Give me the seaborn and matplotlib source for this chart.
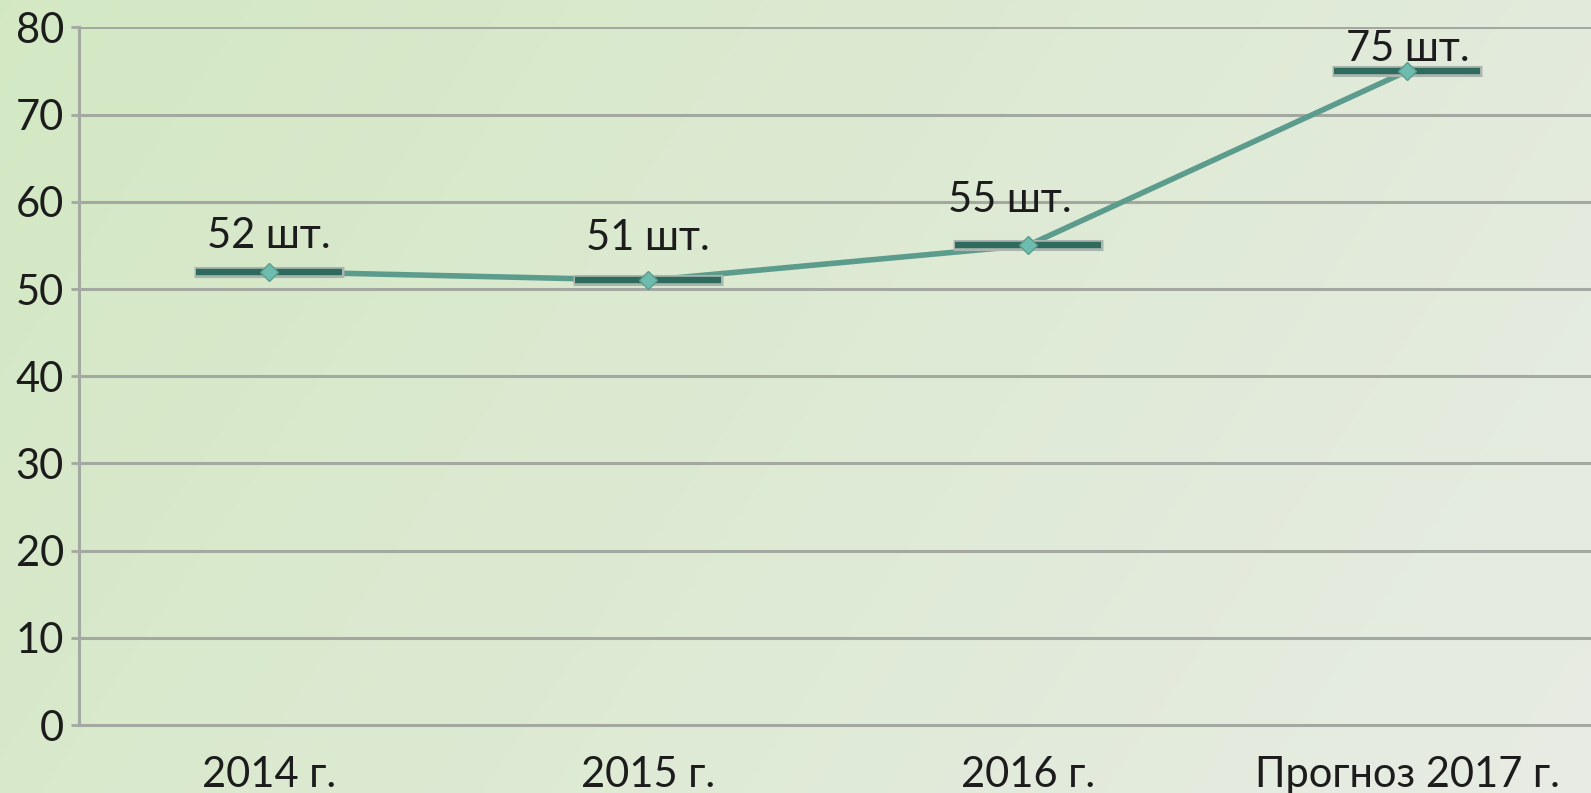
import matplotlib
matplotlib.use('Agg')
import matplotlib.pyplot as plt
import numpy as np
import pandas as pd
import seaborn as sns

# chart data
years = ['2014 г.', '2015 г.', '2016 г.', 'Прогноз 2017 г.']
counts = [52, 51, 55, 75]
labels = ['52 шт.', '51 шт.', '55 шт.', '75 шт.']

# label offsets in points (layout only)
label_offsets = [(0, 17), (0, 22), (-13, 24), (0, 7)]

df = pd.DataFrame({'pos': range(len(years)), 'year': years, 'count': counts})

sns.set_theme(style='white')
plt.rcParams['font.family'] = ['Lato', 'DejaVu Sans']

fig = plt.figure(figsize=(15.91, 7.93), dpi=100)

# gradient background, green at top-left fading to grey at bottom-right
bg = fig.add_axes([0, 0, 1, 1], zorder=-10)
xx, yy = np.meshgrid(np.linspace(0, 1, 400), np.linspace(0, 1, 200))
t = np.clip(0.75 * xx + 0.25 * yy, 0, 1)
c0 = np.array([0.827, 0.910, 0.765])
c1 = np.array([0.910, 0.925, 0.895])
img = c0[None, None, :] * (1 - t[..., None]) + c1[None, None, :] * t[..., None]
bg.imshow(img, aspect='auto', extent=[0, 1, 0, 1], origin='upper')
bg.axis('off')

ax = fig.add_axes([0.0497, 0.0857, 0.9503, 0.8797])
ax.set_facecolor('none')

grid_c = '#a3a8a0'
for y in range(10, 90, 10):
    ax.axhline(y, color=grid_c, lw=2.2, zorder=1)

sns.lineplot(data=df, x='pos', y='count', ax=ax, color='#5c9c8c', lw=4, zorder=3)
ax.plot(df['pos'], df['count'], ls='none', marker='_', ms=108, mew=8,
        color='#a9b5ae', zorder=4)
ax.plot(df['pos'], df['count'], ls='none', marker='_', ms=105, mew=4.6,
        color='#2f6b5d', zorder=5)
ax.plot(df['pos'], df['count'], ls='none', marker='D', ms=9,
        color='#6dbcae', mec='#5c9c8c', zorder=6)

for i, (lab, off) in enumerate(zip(labels, label_offsets)):
    ax.annotate(lab, (i, counts[i]), xytext=off, textcoords='offset points',
                ha='center', va='baseline', fontsize=30, color='#1c1c1c', zorder=7)

ax.set_xlim(-0.5, 3.484)
ax.set_ylim(0, 80)
ax.set_yticks(range(0, 90, 10))
ax.set_xticks(range(len(years)))
ax.set_xticklabels(years)
ax.set_xticks(np.arange(-0.5, 3.5, 1), minor=True)
ax.tick_params(axis='x', which='major', length=0, pad=22, labelsize=30, labelcolor='#1c1c1c')
ax.tick_params(axis='x', which='minor', length=6, width=2, color=grid_c, direction='out')
ax.tick_params(axis='y', length=6, width=2, color=grid_c, pad=5, labelsize=30,
               labelcolor='#1c1c1c', left=True)
ax.set_xlabel('')
ax.set_ylabel('')

for s in ['top', 'right']:
    ax.spines[s].set_visible(False)
for s in ['left', 'bottom']:
    ax.spines[s].set_color(grid_c)
    ax.spines[s].set_linewidth(2.2)

fig.savefig('out.png', dpi=100)
